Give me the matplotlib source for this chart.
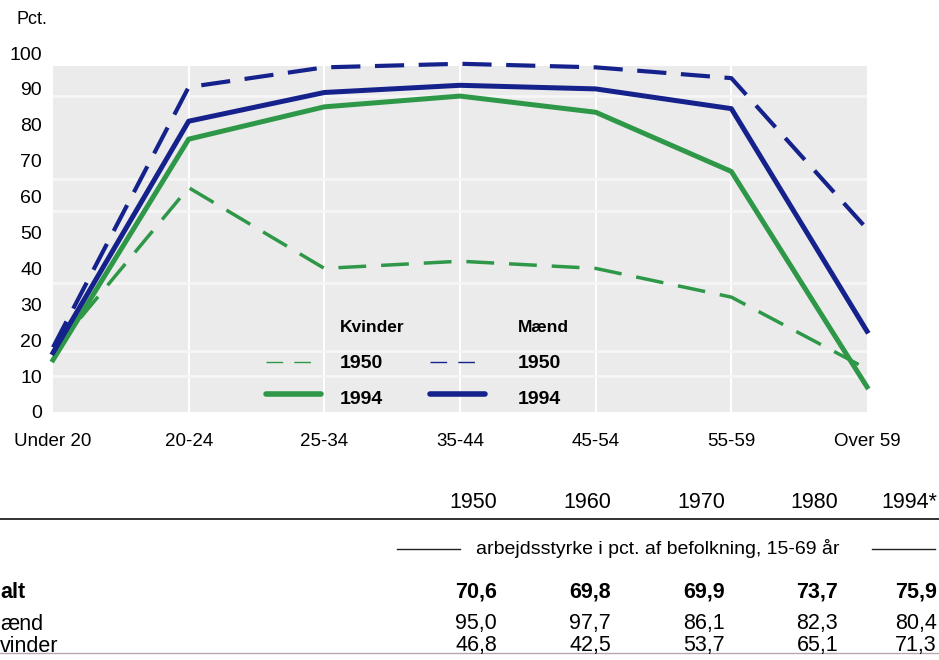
import matplotlib.pyplot as plt
from matplotlib.patches import Rectangle

plt.rcParams['font.family'] = ['Liberation Sans', 'DejaVu Sans']

# Age groups and participation rates (pct.)
ages = ['Under 20', '20-24', '25-34', '35-44', '45-54', '55-59', 'Over 59']
men_1950 = [18, 90.5, 96, 97, 96, 93, 51]
men_1994 = [16.5, 81, 89, 91, 90, 84.5, 22.5]
women_1950 = [17, 62.5, 40, 42, 40, 32, 12]
women_1994 = [14.5, 76, 85, 88, 83.5, 67, 7]

# Table below the chart
years = ['1950', '1960', '1970', '1980', '1994*']
total = ['70,6', '69,8', '69,9', '73,7', '75,9']
men_tab = ['95,0', '97,7', '86,1', '82,3', '80,4']
women_tab = ['46,8', '42,5', '53,7', '65,1', '71,3']

blue = '#16228c'
green = '#2e9848'
fs = 14
tfs = 15.5

W, H = 939, 660
fig = plt.figure(figsize=(W / 100, H / 100), dpi=100)


def fx(x):
    return x / W


def fy(y):
    return 1 - y / H


ax = fig.add_axes([fx(53), fy(412), fx(867) - fx(53), fy(53) - fy(412)])
ax.set_xlim(0, len(ages) - 1)
ax.set_ylim(0, 100)
ax.patch.set_visible(False)
for s in ax.spines.values():
    s.set_visible(False)

# grey halftone-like background
ax.add_patch(Rectangle((0, 0), len(ages) - 1, 96.3, color='#ebebeb', zorder=0, lw=0))
for i in range(1, len(ages) - 1):
    ax.axvline(i, ymax=0.963, color='white', lw=1.5, zorder=1)
for yv in [10, 17, 36, 56, 65, 88]:
    ax.axhline(yv, color='#f6f6f6', lw=2, zorder=1)

x = range(len(ages))
ax.plot(x, men_1950, color=blue, lw=3, dashes=(7, 3.5), clip_on=False, zorder=3)
ax.plot(x, women_1950, color=green, lw=2.5, dashes=(8, 4.3), clip_on=False, zorder=3)
ax.plot(x, women_1994, color=green, lw=3.6, clip_on=False, zorder=4)
ax.plot(x, men_1994, color=blue, lw=3.6, clip_on=False, zorder=5)

ax.set_xticks(list(x))
ax.set_xticklabels(ages, fontsize=13.5)
ax.set_yticks(range(0, 101, 10))
ax.tick_params(axis='y', length=0, labelsize=fs, pad=8)
ax.tick_params(axis='x', length=0, pad=15)

fig.text(fx(17), fy(20), 'Pct.', fontsize=13, va='center', ha='left')

# legend drawn by hand
fig.text(fx(340), fy(328), 'Kvinder', fontsize=12.5, fontweight='bold', va='center')
fig.text(fx(518), fy(328), 'Mænd', fontsize=12.5, fontweight='bold', va='center')
for lx, col in [(266, green), (430, blue)]:
    fig.add_artist(plt.Line2D([fx(lx), fx(lx + 55)], [fy(362), fy(362)], color=col,
                              lw=1, dashes=(12, 8)))
    fig.add_artist(plt.Line2D([fx(lx), fx(lx + 55)], [fy(394), fy(394)], color=col,
                              lw=4, solid_capstyle='round'))
for ly, txt in [(364, '1950'), (400, '1994')]:
    fig.text(fx(340), fy(ly), txt, fontsize=fs, fontweight='bold', va='center')
    fig.text(fx(518), fy(ly), txt, fontsize=fs, fontweight='bold', va='center')

# table
cols = [497, 611, 725, 838, 937]
for cx, yr in zip(cols, years):
    fig.text(fx(cx), fy(503), yr, fontsize=tfs, ha='right', va='center')
fig.add_artist(plt.Line2D([0, 1], [fy(519), fy(519)], color='#222222', lw=1.3))
fig.text(fx(658), fy(548), 'arbejdsstyrke i pct. af befolkning, 15-69 år',
         fontsize=fs, ha='center', va='center')
fig.add_artist(plt.Line2D([fx(397), fx(460)], [fy(549), fy(549)], color='#222222', lw=1))
fig.add_artist(plt.Line2D([fx(872), fx(935)], [fy(549), fy(549)], color='#222222', lw=1))

fig.text(0, fy(592), 'alt', fontsize=tfs, fontweight='bold', va='center')
fig.text(0, fy(624), 'ænd', fontsize=tfs, va='center')
fig.text(0, fy(646), 'vinder', fontsize=tfs, va='center')
for cx, a, b, c in zip(cols, total, men_tab, women_tab):
    fig.text(fx(cx), fy(592), a, fontsize=tfs, fontweight='bold', ha='right', va='center')
    fig.text(fx(cx), fy(624), b, fontsize=tfs, ha='right', va='center')
    fig.text(fx(cx), fy(646), c, fontsize=tfs, ha='right', va='center')
fig.add_artist(plt.Line2D([0, 1], [fy(653), fy(653)], color='#b9a6b3', lw=1))

fig.savefig('out.png', dpi=100)
